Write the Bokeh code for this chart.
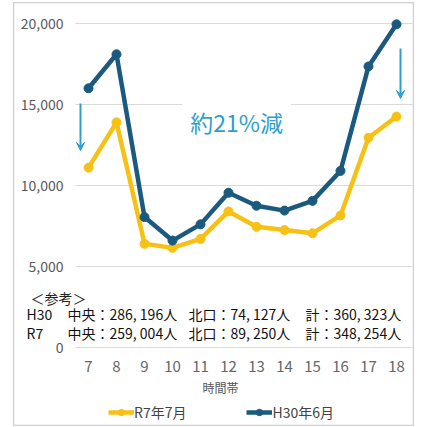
from bokeh.plotting import figure
from bokeh.models import Range1d, Label, Arrow, VeeHead, Legend, LegendItem
from bokeh.core.properties import value
from bokeh.embed import file_html
from bokeh.resources import INLINE

hours = [7, 8, 9, 10, 11, 12, 13, 14, 15, 16, 17, 18]
r7_jul = [11100, 13900, 6400, 6150, 6700, 8400, 7450, 7250, 7050, 8150, 12950, 14250]
h30_jun = [16000, 18100, 8050, 6600, 7600, 9550, 8750, 8450, 9050, 10900, 17350, 19950]
y_ticks = [0, 5000, 10000, 15000, 20000]
y_tick_labels = [f"{v:,}" for v in y_ticks]
x_tick_labels = [str(h) for h in hours]
x_title = "時間帯"

note_title = "＜参考＞"
note_rows = [
    ["H30", "中央：286, 196人", "北口：74, 127人", "計：360, 323人"],
    ["R7", "中央：259, 004人", "北口：89, 250人", "計：348, 254人"],
]

YELLOW = "#f7c114"
NAVY = "#1b5a7e"
TEAL = "#2e9fcd"
FONT = "Noto Sans CJK JP"

# frame fills the whole (bordered) chart box
p = figure(width=401, height=424, output_backend="svg", toolbar_location=None,
           x_range=Range1d(4.321, 18.643), y_range=Range1d(-4877, 21296),
           min_border_left=0, min_border_right=0, min_border_top=0, min_border_bottom=0)
p.styles = {"margin-left": "13px", "margin-top": "2px"}
p.outline_line_color = "#d0d0d0"
p.outline_line_width = 1.5
p.xaxis.visible = False
p.yaxis.visible = False
p.grid.visible = False

# horizontal grid lines (from y ticks), spanning the plotting area
x_lo, x_hi = 6.536, 18.571
p.segment(x0=[x_lo] * len(y_ticks), x1=[x_hi] * len(y_ticks), y0=y_ticks, y1=y_ticks,
          line_color="#d9d9d9", line_width=1.2)

# y tick labels
p.text(x=[6.107] * len(y_ticks), y=y_ticks, text=y_tick_labels,
       text_font=value(FONT), text_font_size="14px", text_color="#595959",
       text_align="right", text_baseline="middle")

# x tick labels
p.text(x=hours, y=[-1173] * len(hours), text=x_tick_labels,
       text_font=value(FONT), text_font_size="15px", text_color="#666666",
       text_align="center", text_baseline="middle")
p.text(x=[11.71], y=[-2469], text=[x_title],
       text_font=value(FONT), text_font_size="12px", text_color="#555555",
       text_align="center", text_baseline="middle")

l1 = p.line(hours, r7_jul, line_color=YELLOW, line_width=4.5)
s1 = p.scatter(hours, r7_jul, size=9, color=YELLOW)
l2 = p.line(hours, h30_jun, line_color=NAVY, line_width=4.5)
s2 = p.scatter(hours, h30_jun, size=9, color=NAVY)

legend = Legend(items=[LegendItem(label="R7年7月", renderers=[l1, s1]),
                       LegendItem(label="H30年6月", renderers=[l2, s2])],
                orientation="horizontal", location=(95, 4),
                label_text_font=FONT, label_text_font_size="14px", label_text_color="#444444",
                glyph_width=26, glyph_height=16, spacing=60, padding=0, margin=0,
                border_line_color=None, background_fill_alpha=0, label_standoff=0)
p.add_layout(legend, "center")

p.add_layout(Label(x=12.29, y=13950, text="約21%減", text_font=FONT, text_font_size="23px",
                   text_color=TEAL, text_align="center", text_baseline="middle",
                   background_fill_color="white", padding=8))

p.add_layout(Arrow(x_start=6.714, y_start=15060, x_end=6.714, y_end=12160,
                   line_color=TEAL, line_width=2,
                   end=VeeHead(size=8, fill_color=TEAL, line_color=TEAL)))
p.add_layout(Arrow(x_start=18.143, y_start=18450, x_end=18.143, y_end=15370,
                   line_color=TEAL, line_width=2,
                   end=VeeHead(size=8, fill_color=TEAL, line_color=TEAL)))

p.text(x=[4.93], y=[3086], text=[note_title], text_font=value(FONT), text_font_size="14px",
       text_color="#222222", text_baseline="middle")
col_x = [4.786, 6.25, 10.571, 14.75]
row_y = [2037, 864]
for ry, row in zip(row_y, note_rows):
    p.text(x=col_x, y=[ry] * len(row), text=row, text_font=value(FONT),
           text_font_size="14px", text_color="#111111", text_baseline="middle")

open("out.html", "w").write(file_html(p, INLINE))
